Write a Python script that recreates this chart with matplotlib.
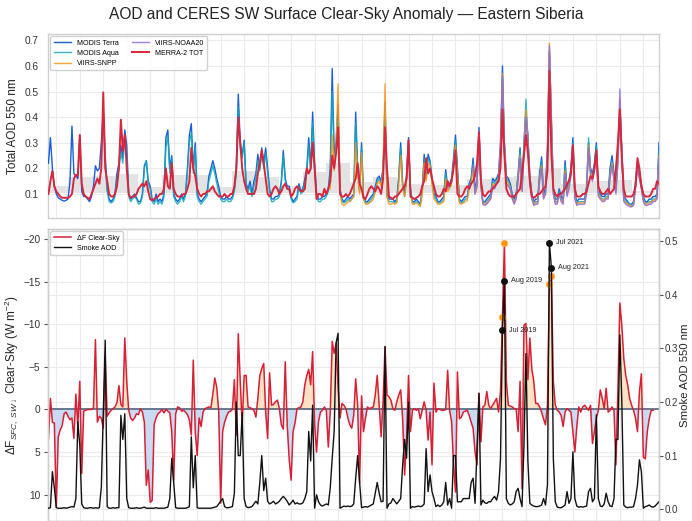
import numpy as np
import matplotlib.pyplot as plt

plt.rcParams['font.family'] = ['Liberation Sans', 'DejaVu Sans']
plt.rcParams['mathtext.fontset'] = 'custom'
plt.rcParams['mathtext.rm'] = 'Liberation Sans'
plt.rcParams['mathtext.it'] = 'Liberation Sans:italic'

# monthly values, one row per calendar year (2000 starts in March)
terra = [
    0.22, 0.32, 0.20, 0.13, 0.10, 0.085, 0.08, 0.075, 0.072, 0.075,
    0.08, 0.15, 0.365, 0.18, 0.17, 0.16, 0.33, 0.11, 0.09, 0.09, 0.08, 0.07,
    0.09, 0.13, 0.21, 0.19, 0.20, 0.30, 0.42, 0.25, 0.12, 0.08, 0.07, 0.08,
    0.10, 0.18, 0.22, 0.29, 0.24, 0.35, 0.29, 0.10, 0.08, 0.09, 0.10, 0.085,
    0.07, 0.07, 0.10, 0.21, 0.23, 0.15, 0.13, 0.08, 0.07, 0.10, 0.07, 0.08,
    0.07, 0.10, 0.32, 0.35, 0.20, 0.25, 0.10, 0.08, 0.07, 0.08, 0.10, 0.08,
    0.10, 0.20, 0.33, 0.375, 0.20, 0.30, 0.10, 0.08, 0.07, 0.08, 0.09, 0.10,
    0.17, 0.20, 0.23, 0.20, 0.16, 0.13, 0.09, 0.08, 0.08, 0.09, 0.08, 0.08,
    0.09, 0.12, 0.20, 0.49, 0.30, 0.25, 0.31, 0.14, 0.12, 0.15, 0.10, 0.15,
    0.18, 0.255, 0.20, 0.28, 0.22, 0.28, 0.20, 0.12, 0.08, 0.08, 0.09, 0.09,
    0.10, 0.15, 0.27, 0.16, 0.13, 0.13, 0.09, 0.07, 0.08, 0.09, 0.14, 0.11,
    0.12, 0.16, 0.20, 0.32, 0.20, 0.42, 0.22, 0.10, 0.08, 0.08, 0.09, 0.09,
    0.10, 0.12, 0.20, 0.59, 0.26, 0.30, 0.45, 0.12, 0.08, 0.07, 0.08, 0.09,
    0.08, 0.09, 0.10, 0.42, 0.20, 0.12, 0.30, 0.09, 0.07, 0.07, 0.08, 0.09,
    0.10, 0.13, 0.16, 0.17, 0.15, 0.20, 0.46, 0.10, 0.08, 0.08, 0.08, 0.07,
    0.08, 0.17, 0.30, 0.14, 0.10, 0.17, 0.32, 0.12, 0.07, 0.07, 0.08, 0.07,
    0.06, 0.12, 0.255, 0.17, 0.255, 0.23, 0.16, 0.10, 0.09, 0.07, 0.07, 0.08,
    0.09, 0.195, 0.13, 0.14, 0.16, 0.24, 0.33, 0.20, 0.08, 0.07, 0.08, 0.09,
    0.09, 0.14, 0.16, 0.24, 0.12, 0.15, 0.36, 0.14, 0.07, 0.07, 0.08, 0.09,
    0.10, 0.16, 0.15, 0.16, 0.18, 0.30, 0.60, 0.30, 0.17, 0.16, 0.14, 0.10,
    0.08, 0.10, 0.18, 0.28, 0.13, 0.30, 0.42, 0.33, 0.17, 0.10, 0.07, 0.08,
    0.08, 0.18, 0.245, 0.10, 0.12, 0.28, 0.66, 0.40, 0.12, 0.08, 0.08, 0.12,
    0.09, 0.08, 0.23, 0.12, 0.15, 0.20, 0.32, 0.10, 0.07, 0.08, 0.08, 0.08,
    0.08, 0.13, 0.30, 0.20, 0.18, 0.22, 0.30, 0.12, 0.10, 0.09, 0.09, 0.10,
    0.10, 0.20, 0.25, 0.18, 0.13, 0.25, 0.44, 0.28, 0.09, 0.08, 0.07, 0.06,
    0.06, 0.07, 0.15, 0.22, 0.18, 0.14, 0.09, 0.07, 0.07, 0.08, 0.08, 0.09,
    0.09, 0.10, 0.30,
]

# starts Jul 2002
aqua = [
    0.40, 0.22, 0.11, 0.07, 0.065, 0.07,
    0.09, 0.16, 0.20, 0.26, 0.22, 0.32, 0.25, 0.09, 0.07, 0.08, 0.09, 0.08,
    0.06, 0.065, 0.09, 0.20, 0.23, 0.14, 0.12, 0.07, 0.06, 0.08, 0.06, 0.07,
    0.06, 0.09, 0.28, 0.33, 0.18, 0.24, 0.09, 0.07, 0.06, 0.07, 0.09, 0.07,
    0.09, 0.18, 0.30, 0.34, 0.18, 0.28, 0.09, 0.07, 0.06, 0.07, 0.08, 0.09,
    0.15, 0.18, 0.21, 0.18, 0.14, 0.11, 0.08, 0.07, 0.07, 0.08, 0.07, 0.07,
    0.08, 0.11, 0.18, 0.44, 0.28, 0.24, 0.30, 0.13, 0.11, 0.13, 0.09, 0.13,
    0.16, 0.23, 0.19, 0.26, 0.20, 0.26, 0.18, 0.11, 0.07, 0.07, 0.08, 0.08,
    0.09, 0.14, 0.25, 0.15, 0.12, 0.12, 0.08, 0.065, 0.07, 0.08, 0.13, 0.10,
    0.11, 0.15, 0.18, 0.29, 0.19, 0.38, 0.20, 0.09, 0.07, 0.07, 0.08, 0.08,
    0.09, 0.11, 0.18, 0.50, 0.24, 0.28, 0.42, 0.11, 0.07, 0.065, 0.07, 0.08,
    0.07, 0.08, 0.09, 0.38, 0.19, 0.11, 0.28, 0.08, 0.065, 0.065, 0.07, 0.08,
    0.09, 0.12, 0.15, 0.16, 0.14, 0.19, 0.44, 0.09, 0.07, 0.07, 0.07, 0.065,
    0.07, 0.15, 0.28, 0.13, 0.09, 0.16, 0.30, 0.11, 0.065, 0.065, 0.07, 0.065,
    0.055, 0.11, 0.24, 0.16, 0.24, 0.22, 0.15, 0.09, 0.08, 0.065, 0.065, 0.07,
    0.08, 0.18, 0.12, 0.13, 0.15, 0.22, 0.31, 0.19, 0.07, 0.065, 0.07, 0.08,
    0.08, 0.13, 0.15, 0.22, 0.11, 0.14, 0.33, 0.13, 0.065, 0.065, 0.07, 0.08,
    0.09, 0.15, 0.14, 0.15, 0.17, 0.28, 0.55, 0.29, 0.16, 0.15, 0.13, 0.09,
    0.07, 0.09, 0.17, 0.27, 0.12, 0.29, 0.47, 0.31, 0.16, 0.09, 0.065, 0.07,
    0.07, 0.17, 0.23, 0.09, 0.11, 0.26, 0.65, 0.38, 0.11, 0.07, 0.07, 0.11,
    0.08, 0.07, 0.21, 0.11, 0.14, 0.19, 0.30, 0.09, 0.065, 0.07, 0.07, 0.07,
    0.07, 0.12, 0.32, 0.19, 0.17, 0.21, 0.29, 0.11, 0.09, 0.08, 0.08, 0.09,
    0.09, 0.19, 0.23, 0.17, 0.12, 0.23, 0.42, 0.26, 0.08, 0.07, 0.065, 0.06,
    0.055, 0.065, 0.14, 0.21, 0.17, 0.13, 0.08, 0.065, 0.065, 0.07, 0.07, 0.08,
    0.08, 0.09, 0.27,
]

# starts Mar 2012
snpp = [
    0.12, 0.33, 0.19, 0.30, 0.53, 0.10, 0.06, 0.055, 0.06, 0.07,
    0.07, 0.08, 0.09, 0.30, 0.17, 0.10, 0.26, 0.08, 0.06, 0.06, 0.065, 0.07,
    0.08, 0.11, 0.14, 0.15, 0.13, 0.19, 0.53, 0.09, 0.06, 0.06, 0.065, 0.06,
    0.065, 0.14, 0.25, 0.12, 0.09, 0.15, 0.29, 0.10, 0.06, 0.06, 0.065, 0.06,
    0.05, 0.10, 0.22, 0.15, 0.22, 0.21, 0.14, 0.08, 0.07, 0.06, 0.06, 0.065,
    0.07, 0.16, 0.11, 0.12, 0.14, 0.21, 0.29, 0.18, 0.065, 0.06, 0.065, 0.07,
    0.075, 0.12, 0.14, 0.20, 0.10, 0.13, 0.34, 0.13, 0.06, 0.06, 0.065, 0.075,
    0.08, 0.14, 0.13, 0.14, 0.16, 0.27, 0.57, 0.28, 0.15, 0.14, 0.12, 0.085,
    0.065, 0.085, 0.16, 0.25, 0.11, 0.27, 0.43, 0.30, 0.15, 0.085, 0.06, 0.065,
    0.065, 0.16, 0.21, 0.085, 0.10, 0.25, 0.69, 0.39, 0.10, 0.065, 0.065, 0.10,
    0.075, 0.065, 0.19, 0.10, 0.13, 0.18, 0.29, 0.085, 0.06, 0.065, 0.065, 0.065,
    0.065, 0.11, 0.29, 0.18, 0.16, 0.20, 0.27, 0.10, 0.085, 0.075, 0.075, 0.085,
    0.085, 0.17, 0.22, 0.16, 0.11, 0.22, 0.47, 0.25, 0.075, 0.065, 0.06, 0.055,
    0.05, 0.06, 0.13, 0.20, 0.16, 0.12, 0.075, 0.06, 0.06, 0.065, 0.065, 0.075,
    0.075, 0.085, 0.25,
]

# starts Apr 2018
noaa20 = [
    0.21, 0.10, 0.13, 0.35, 0.14, 0.06, 0.055, 0.06, 0.07,
    0.08, 0.13, 0.12, 0.14, 0.15, 0.26, 0.56, 0.27, 0.14, 0.13, 0.12, 0.08,
    0.06, 0.08, 0.15, 0.24, 0.11, 0.26, 0.40, 0.29, 0.14, 0.08, 0.055, 0.06,
    0.06, 0.15, 0.20, 0.08, 0.10, 0.24, 0.68, 0.37, 0.10, 0.06, 0.06, 0.10,
    0.07, 0.06, 0.18, 0.09, 0.12, 0.17, 0.28, 0.08, 0.055, 0.06, 0.06, 0.06,
    0.06, 0.10, 0.28, 0.17, 0.15, 0.19, 0.26, 0.09, 0.08, 0.07, 0.07, 0.08,
    0.08, 0.16, 0.21, 0.15, 0.10, 0.23, 0.51, 0.24, 0.07, 0.06, 0.055, 0.05,
    0.05, 0.055, 0.12, 0.20, 0.16, 0.12, 0.07, 0.055, 0.055, 0.06, 0.06, 0.07,
    0.07, 0.08, 0.24,
]

merra = [
    0.10, 0.15, 0.19, 0.13, 0.11, 0.10, 0.09, 0.085, 0.085, 0.085,
    0.085, 0.09, 0.10, 0.16, 0.175, 0.17, 0.33, 0.14, 0.10, 0.09, 0.085, 0.08,
    0.10, 0.12, 0.14, 0.16, 0.14, 0.20, 0.497, 0.20, 0.15, 0.10, 0.09, 0.09,
    0.10, 0.13, 0.20, 0.39, 0.27, 0.33, 0.20, 0.10, 0.085, 0.09, 0.09, 0.10,
    0.12, 0.13, 0.14, 0.13, 0.15, 0.11, 0.08, 0.075, 0.08, 0.085, 0.09, 0.10,
    0.10, 0.12, 0.20, 0.13, 0.12, 0.22, 0.12, 0.10, 0.09, 0.09, 0.09, 0.10,
    0.10, 0.12, 0.15, 0.28, 0.20, 0.17, 0.12, 0.10, 0.09, 0.10, 0.10, 0.11,
    0.11, 0.12, 0.13, 0.11, 0.10, 0.09, 0.09, 0.09, 0.10, 0.09, 0.09, 0.10,
    0.10, 0.13, 0.20, 0.40, 0.30, 0.20, 0.15, 0.12, 0.10, 0.10, 0.10, 0.10,
    0.12, 0.18, 0.22, 0.27, 0.22, 0.16, 0.10, 0.09, 0.10, 0.12, 0.13, 0.12,
    0.10, 0.11, 0.13, 0.14, 0.12, 0.12, 0.09, 0.10, 0.12, 0.13, 0.12, 0.11,
    0.11, 0.12, 0.20, 0.18, 0.20, 0.30, 0.20, 0.08, 0.10, 0.10, 0.09, 0.12,
    0.10, 0.12, 0.15, 0.25, 0.20, 0.26, 0.36, 0.10, 0.09, 0.09, 0.10, 0.09,
    0.10, 0.12, 0.14, 0.16, 0.22, 0.14, 0.12, 0.085, 0.08, 0.10, 0.12, 0.13,
    0.12, 0.11, 0.13, 0.12, 0.10, 0.16, 0.36, 0.20, 0.09, 0.085, 0.08, 0.09,
    0.09, 0.10, 0.11, 0.12, 0.13, 0.16, 0.31, 0.09, 0.085, 0.08, 0.085, 0.09,
    0.10, 0.13, 0.15, 0.24, 0.18, 0.20, 0.16, 0.13, 0.10, 0.09, 0.09, 0.10,
    0.12, 0.11, 0.15, 0.13, 0.15, 0.20, 0.27, 0.10, 0.09, 0.09, 0.10, 0.12,
    0.13, 0.12, 0.14, 0.15, 0.17, 0.22, 0.34, 0.15, 0.10, 0.09, 0.10, 0.11,
    0.11, 0.12, 0.13, 0.14, 0.15, 0.20, 0.43, 0.25, 0.12, 0.10, 0.09, 0.09,
    0.09, 0.10, 0.11, 0.12, 0.18, 0.25, 0.33, 0.26, 0.15, 0.09, 0.085, 0.09,
    0.10, 0.10, 0.11, 0.12, 0.13, 0.19, 0.58, 0.25, 0.12, 0.10, 0.09, 0.10,
    0.10, 0.11, 0.12, 0.14, 0.15, 0.18, 0.29, 0.12, 0.09, 0.09, 0.09, 0.10,
    0.10, 0.11, 0.14, 0.17, 0.16, 0.20, 0.27, 0.13, 0.11, 0.10, 0.10, 0.11,
    0.12, 0.10, 0.11, 0.12, 0.20, 0.30, 0.43, 0.24, 0.12, 0.09, 0.09, 0.09,
    0.09, 0.10, 0.13, 0.24, 0.20, 0.13, 0.10, 0.09, 0.09, 0.09, 0.10, 0.12,
    0.12, 0.15, 0.14,
]

# grey background blocks, one per year 2000-2025
block_years = list(range(2000, 2026))
block_tops = [0.13, 0.166, 0.172, 0.176, 0.126, 0.175, 0.175, 0.126, 0.19, 0.166,
              0.13, 0.186, 0.22, 0.147, 0.166, 0.14, 0.135, 0.133, 0.16, 0.166,
              0.172, 0.2, 0.14, 0.15, 0.153, 0.113]

# CERES clear-sky SW surface anomaly (W m-2), Mar 2000 - Dec 2025
dflux = [
    3.4, -1.3, 1.5, 1.6, 11.5, 3.2, 2.4, 1.9, 0.5, 0.3,
    0.8, 1.2, 1.0, 3.4, -1.8, 2.0, -3.3, 7.5, 0.2, 0.1, 0.0, 0.0,
    0.0, -0.2, -8.2, 1.5, 0.8, 1.0, 2.2, -6.2, 0.8, 0.4, 0.1, -0.1,
    -0.3, -0.8, -2.8, -0.6, -0.3, -8.4, -3.3, 0.1, 1.0, 1.3, 1.0, 0.5,
    0.6, -0.1, 0.3, 1.5, 8.9, 7.1, 10.9, 10.7, 1.8, 1.0, 0.5, 0.3,
    0.0, 0.4, 0.0, 0.2, 0.4, 2.6, 8.3, 0.5, -0.3, -0.2, 0.2, 0.1,
    0.3, 0.6, 1.2, 3.0, -5.8, 2.6, 5.4, 1.0, 2.0, 0.3, -0.1, -0.2,
    -0.3, -0.2, -1.8, -3.7, -2.6, 0.2, 11.0, 2.6, 1.5, 0.8, 0.3, 0.2,
    0.0, -3.5, 3.0, -8.9, -3.3, 1.8, -4.0, -4.0, -0.3, -0.2, -0.1, 0.1,
    0.9, -1.3, -4.0, -4.8, -5.4, 0.3, 3.4, -4.3, -0.5, -0.6, -0.9, -1.1,
    -0.1, 1.8, 2.3, -5.6, 1.8, 5.8, 8.3, 2.6, 1.6, -0.1, -0.2, -0.3,
    -0.9, -2.9, -4.0, -4.7, -2.9, -6.8, 1.8, 5.0, 1.4, 0.3, 0.1, -0.3,
    0.1, 4.4, 0.3, -8.0, -6.6, -7.8, -2.5, 1.0, -0.7, -0.5, -0.1, 1.0,
    1.8, 2.2, 0.7, -3.6, -0.5, 8.7, -1.6, 2.6, 1.0, -0.3, -0.1, -0.2,
    -0.3, -1.7, -4.0, -0.5, 3.2, -1.0, -7.4, -1.7, -1.5, -1.1, -0.1, 0.1,
    -0.9, -1.7, -2.3, 1.1, 7.7, 3.4, -4.0, 2.6, 0.1, -0.1, 0.1, -0.1,
    1.1, 0.1, -0.9, 0.1, 3.6, 0.3, 6.5, -3.1, 0.3, -0.1, 0.0, 0.1,
    0.1, 0.0, -4.6, 0.1, 1.4, 6.5, 9.7, -4.4, 1.1, 0.9, 0.3, 0.2,
    0.1, 0.7, 1.5, 2.2, 5.0, 6.5, -1.9, 3.8, -0.3, -0.5, -2.1, -0.5,
    -0.1, -0.5, -0.9, -1.3, 0.3, -2.1, -10.9, -19.6, -3.3, -0.5, -0.4, -0.3,
    -0.1, -0.1, 2.6, -3.3, 9.3, -9.9, -10.1, -3.5, -8.4, -4.8, -3.3, -0.7,
    -0.7, -0.3, 0.3, 1.1, 1.8, -0.5, -14.7, -15.7, -3.3, -0.5, 0.1, 0.3,
    0.7, 2.0, 0.3, -0.1, 0.1, 0.3, 2.6, 5.0, 2.0, -0.3, 0.3, -0.3,
    -0.5, -0.2, 0.1, -0.5, 4.0, 2.6, 1.0, 0.1, -2.3, -1.3, -0.1, -2.5,
    0.3, 0.1, -0.3, 0.1, 6.5, -2.3, -12.5, -9.9, -6.0, -4.0, -2.9, -1.3,
    -0.5, 0.1, 1.0, 2.6, -2.1, -4.2, 5.6, 5.8, 2.6, 1.1, 0.1, 0.1,
]

# smoke AOD 550 nm, Mar 2000 - Mar 2026
smoke = [
    0.002, 0.003, 0.07, 0.04, 0.003, 0.002, 0.002, 0.002, 0.003, 0.002,
    0.003, 0.004, 0.005, 0.004, 0.02, 0.163, 0.12, 0.01, 0.003, 0.002, 0.002, 0.003,
    0.003, 0.002, 0.003, 0.002, 0.003, 0.04, 0.18, 0.315, 0.005, 0.002, 0.002, 0.003,
    0.002, 0.003, 0.003, 0.175, 0.13, 0.178, 0.02, 0.003, 0.002, 0.002, 0.002, 0.003,
    0.002, 0.002, 0.003, 0.004, 0.002, 0.002, 0.002, 0.002, 0.002, 0.003, 0.002, 0.002,
    0.002, 0.002, 0.003, 0.004, 0.02, 0.095, 0.05, 0.003, 0.002, 0.002, 0.002, 0.002,
    0.002, 0.003, 0.005, 0.135, 0.04, 0.10, 0.003, 0.002, 0.002, 0.002, 0.002, 0.002,
    0.002, 0.002, 0.003, 0.004, 0.005, 0.01, 0.015, 0.02, 0.005, 0.003, 0.003, 0.004,
    0.005, 0.03, 0.20, 0.10, 0.10, 0.18, 0.02, 0.005, 0.003, 0.004, 0.005, 0.01,
    0.015, 0.01, 0.05, 0.10, 0.035, 0.058, 0.015, 0.01, 0.012, 0.015, 0.01, 0.012,
    0.015, 0.02, 0.024, 0.02, 0.015, 0.008, 0.012, 0.017, 0.01, 0.012, 0.01, 0.01,
    0.012, 0.02, 0.033, 0.145, 0.09, 0.194, 0.002, 0.027, 0.014, 0.008, 0.006, 0.008,
    0.01, 0.008, 0.04, 0.095, 0.145, 0.31, 0.328, 0.002, 0.004, 0.006, 0.005, 0.006,
    0.005, 0.006, 0.01, 0.058, 0.10, 0.05, 0.003, 0.004, 0.005, 0.004, 0.006, 0.008,
    0.01, 0.03, 0.05, 0.03, 0.014, 0.015, 0.303, 0.002, 0.01, 0.012, 0.02, 0.015,
    0.01, 0.015, 0.02, 0.083, 0.13, 0.095, 0.20, 0.002, 0.005, 0.004, 0.005, 0.006,
    0.005, 0.006, 0.01, 0.113, 0.033, 0.064, 0.033, 0.02, 0.005, 0.008, 0.005, 0.008,
    0.014, 0.05, 0.008, 0.02, 0.002, 0.10, 0.10, 0.014, 0.014, 0.014, 0.02, 0.02,
    0.02, 0.02, 0.05, 0.058, 0.011, 0.114, 0.216, 0.008, 0.017, 0.012, 0.011, 0.014,
    0.014, 0.02, 0.024, 0.017, 0.033, 0.095, 0.333, 0.426, 0.02, 0.011, 0.008, 0.01,
    0.014, 0.033, 0.039, 0.02, 0.005, 0.12, 0.29, 0.09, 0.011, 0.008, 0.006, 0.005,
    0.005, 0.006, 0.008, 0.02, 0.008, 0.045, 0.496, 0.45, 0.095, 0.014, 0.004, 0.003,
    0.003, 0.005, 0.008, 0.033, 0.011, 0.02, 0.107, 0.02, 0.006, 0.004, 0.005, 0.004,
    0.005, 0.006, 0.033, 0.039, 0.014, 0.02, 0.176, 0.02, 0.006, 0.005, 0.01, 0.03,
    0.014, 0.006, 0.005, 0.02, 0.13, 0.13, 0.325, 0.20, 0.008, 0.004, 0.003, 0.004,
    0.004, 0.005, 0.02, 0.045, 0.092, 0.07, 0.002, 0.005, 0.006, 0.008, 0.005, 0.004,
    0.006, 0.01, 0.014,
]

events = [(2019, 7, 'Jul 2019'), (2019, 8, 'Aug 2019'),
          (2021, 7, 'Jul 2021'), (2021, 8, 'Aug 2021')]


def month_axis(year, month, n):
    # decimal-year position of each monthly value
    return year + (month - 1 + np.arange(n)) / 12.0


def month_index(year, month):
    return (year - 2000) * 12 + month - 3


t_terra = month_axis(2000, 3, len(terra))
t_aqua = month_axis(2002, 7, len(aqua))
t_snpp = month_axis(2012, 3, len(snpp))
t_n20 = month_axis(2018, 4, len(noaa20))
t_merra = month_axis(2000, 3, len(merra))
t_flux = month_axis(2000, 3, len(dflux))
t_smoke = month_axis(2000, 3, len(smoke))
dflux = np.array(dflux)
smoke = np.array(smoke)

W, H = 692.0, 521.0
fig = plt.figure(figsize=(W / 100, H / 100), dpi=100)
ax = fig.add_axes([48 / W, 1 - 218 / H, 611 / W, 184 / H])
bx = fig.add_axes([48 / W, 0.0, 611 / W, 292 / H])

grid_c = '#ebebeb'
spine_c = '#cfcfcf'
xlim = (2000 + 2 / 12 - 0.02, 2026 + 2 / 12)
year_ticks = np.arange(2000.5, 2026, 1.0)

fig.text(0.5, 1 - 15 / H, 'AOD and CERES SW Surface Clear-Sky Anomaly \u2014 Eastern Siberia',
         ha='center', va='center', fontsize=11.2, color='#222222')

# ---- top panel: total AOD
ax.bar(np.array(block_years) + 0.5, np.array(block_tops) - 0.104, bottom=0.104,
       width=1.0, color='#e3e3e3', linewidth=0, zorder=1)
ax.plot(t_terra, terra, color='#1a5fd6', lw=1.0, label='MODIS Terra', zorder=3)
ax.plot(t_aqua, aqua, color='#14a9b6', lw=1.0, alpha=0.85, label='MODIS Aqua', zorder=3)
ax.plot(t_snpp, snpp, color='#ff9312', lw=1.0, alpha=0.85, label='VIIRS-SNPP', zorder=3)
ax.plot(t_n20, noaa20, color='#8f6bd8', lw=1.0, alpha=0.85, label='VIIRS-NOAA20', zorder=3)
ax.plot(t_merra, merra, color='#d7263d', lw=1.4, label='MERRA-2 TOT', zorder=4)
ax.set_xlim(*xlim)
ax.set_ylim(0.006, 0.725)
ax.set_xticks(year_ticks)
ax.set_yticks([0.1, 0.2, 0.3, 0.4, 0.5, 0.6, 0.7])
ax.set_ylabel('Total AOD 550 nm', fontsize=8.5, color='#222222', labelpad=4)
ax.legend(loc='upper left', ncol=2, fontsize=5.1, frameon=True, framealpha=0.9,
          edgecolor='#cccccc', handlelength=2.5, columnspacing=1.8,
          borderaxespad=0.35, labelspacing=0.45, borderpad=0.45)

# ---- bottom panel: clear-sky flux anomaly and smoke AOD
bx.fill_between(t_flux, dflux, 0, where=dflux < 0, interpolate=True,
                color='#fde3c3', linewidth=0, zorder=1)
bx.fill_between(t_flux, dflux, 0, where=dflux > 0, interpolate=True,
                color='#c9dbf3', linewidth=0, zorder=1)
bx.axhline(0, color='#5c6e84', lw=1.3, zorder=2)
l_flux, = bx.plot(t_flux, dflux, color='#d62035', lw=1.1, zorder=3, label='\u0394F Clear-Sky')
bx.set_xlim(*xlim)
bx.set_ylim(13.1, -21.2)
bx.set_xticks(year_ticks)
bx.set_yticks([-20, -15, -10, -5, 0, 5, 10])
bx.set_ylabel(r'$\Delta\mathrm{F}_{SFC,\ SW\downarrow}$ Clear-Sky (W m$^{-2}$)',
              fontsize=8.5, color='#222222', labelpad=2)

rx = bx.twinx()
rx.set_ylim(-0.0218, 0.522)
rx.set_yticks([0.0, 0.1, 0.2, 0.3, 0.4, 0.5])
rx.set_yticklabels(['0.0', '0.1', '0.2', '0.3', '0.4', '0.5'])
rx.set_ylabel('Smoke AOD 550 nm', fontsize=8.2, color='#222222', labelpad=1.5)
l_smoke, = rx.plot(t_smoke, smoke, color='#111111', lw=1.0, zorder=3, label='Smoke AOD')

# right-axis grid drawn on the left axes so it stays behind the data
lo_l, hi_l = bx.get_ylim()
lo_r, hi_r = rx.get_ylim()
for v in rx.get_yticks():
    bx.axhline(lo_l + (v - lo_r) / (hi_r - lo_r) * (hi_l - lo_l), color=grid_c, lw=0.8, zorder=0)

for yr, mo, lab in events:
    i = month_index(yr, mo)
    bx.plot(t_flux[i], dflux[i], 'o', color='#ff9312', ms=4.6, mec='#ffb04d', mew=0.6, zorder=5)
    rx.plot(t_smoke[i], smoke[i], 'o', color='#111111', ms=4.0, zorder=5)
    rx.annotate(lab, (t_smoke[i], smoke[i]), xytext=(4.5, 0), textcoords='offset points',
                fontsize=5.2, va='center', color='#222222')

rx.legend([l_flux, l_smoke], ['\u0394F Clear-Sky', 'Smoke AOD'], loc='upper left',
          fontsize=5.1, frameon=True, framealpha=0.9, edgecolor='#cccccc',
          handlelength=2.5, borderaxespad=0.35, labelspacing=0.45, borderpad=0.45)

for a in (ax, bx):
    a.grid(True, color=grid_c, lw=0.8, zorder=0)
    a.set_axisbelow(True)
    a.tick_params(axis='x', length=0, labelbottom=False)
for a in (ax, bx, rx):
    for s in a.spines.values():
        s.set_color(spine_c)
        s.set_linewidth(1.0)
ax.tick_params(axis='y', length=0, pad=6.5, labelsize=7.3, labelcolor='#333333')
bx.tick_params(axis='y', length=3, width=0.8, color='#555555', pad=2.5,
               labelsize=7.3, labelcolor='#333333')
rx.tick_params(axis='y', length=3, width=0.8, color='#555555', pad=1.2,
               labelsize=7.0, labelcolor='#333333')
rx.grid(False)

fig.savefig('out.png', dpi=100)
